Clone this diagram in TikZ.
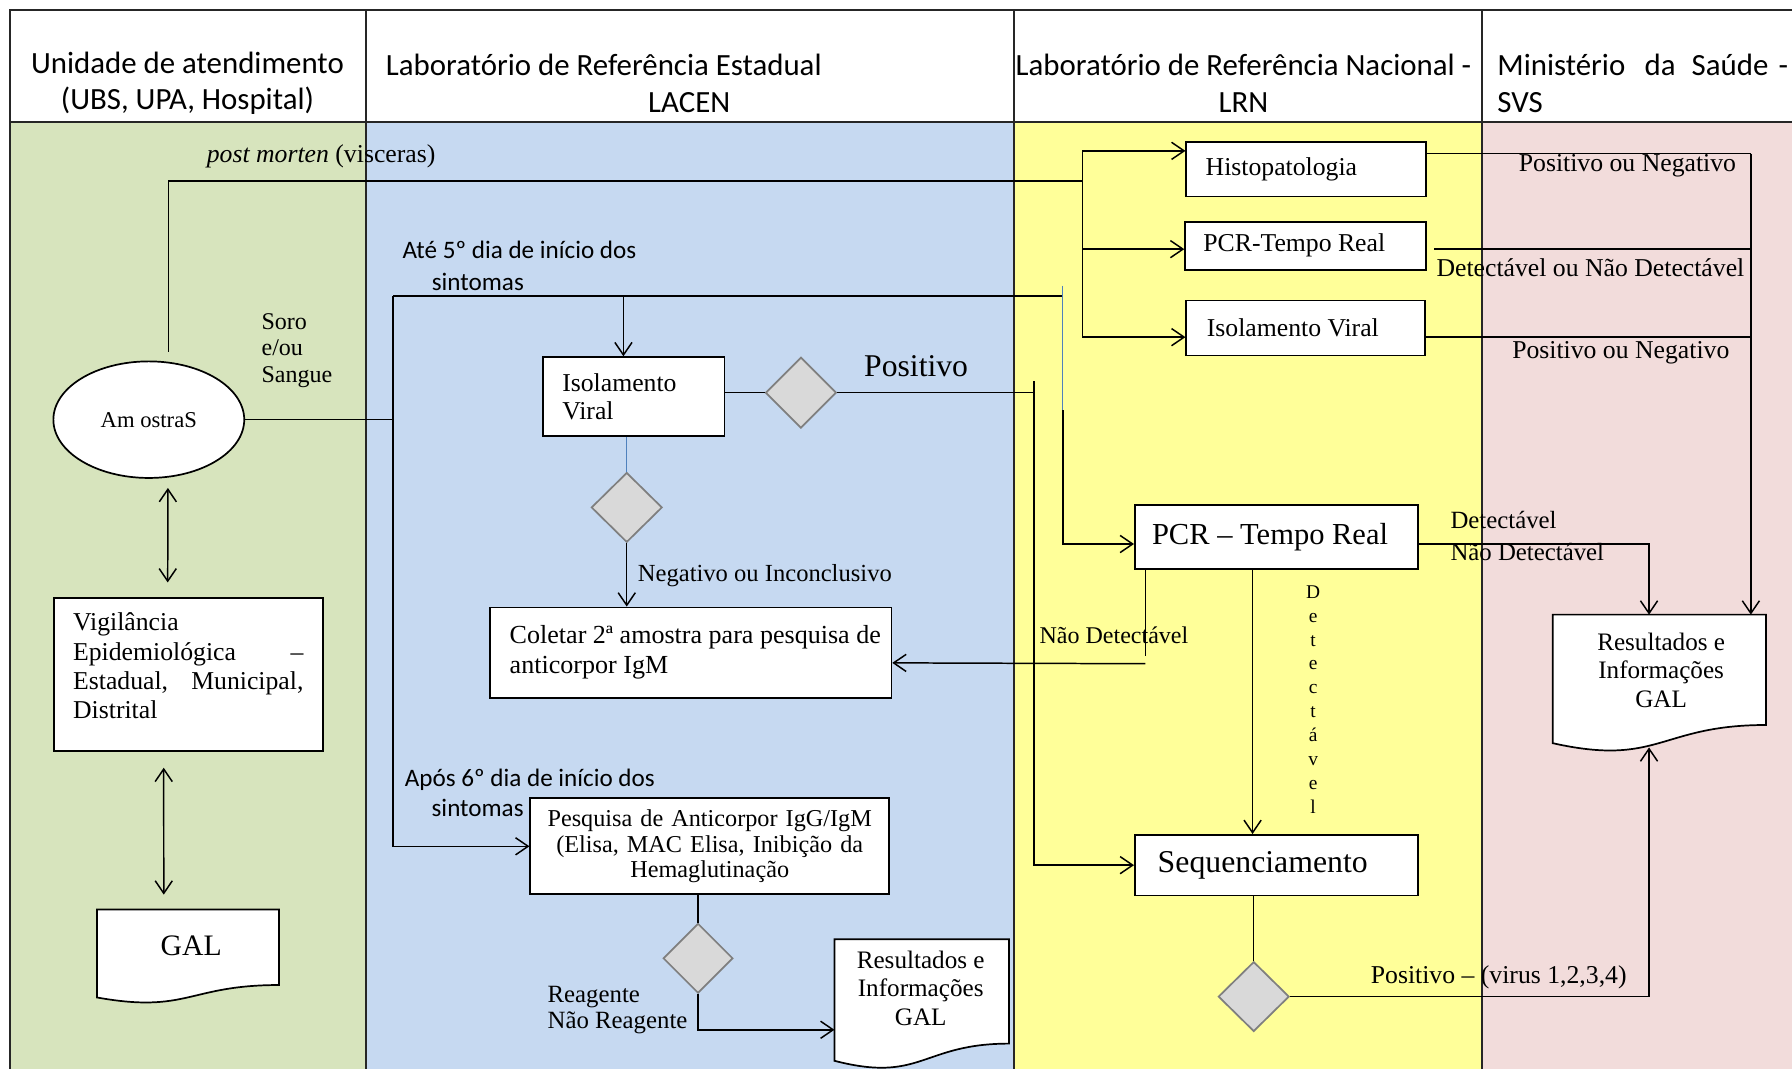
\documentclass[tikz,border=0pt]{standalone}
\usepackage{fontspec}
\setmainfont{Liberation Serif}
\newfontfamily\calfont{Carlito}
\usetikzlibrary{arrows.meta,shapes.geometric,calc}
\pgfdeclarelayer{lanes}
\pgfdeclarelayer{docs}
\pgfsetlayers{lanes,docs,main}
\definecolor{laneG}{HTML}{D7E4BD}
\definecolor{laneB}{HTML}{C6D9F1}
\definecolor{laneY}{HTML}{FFFF99}
\definecolor{laneP}{HTML}{F2DCDB}
\definecolor{decfill}{HTML}{D9D9D9}
\definecolor{decdraw}{HTML}{7F7F7F}
\definecolor{thinblue}{HTML}{4F81BD}
\tikzset{
  conn/.style={line width=1.3pt, draw=black},
  arr/.style={conn, -{Straight Barb[length=11pt,width=15pt,line width=1.3pt]}},
  arrboth/.style={conn, {Straight Barb[length=11pt,width=15pt,line width=1.3pt]}-{Straight Barb[length=11pt,width=15pt,line width=1.3pt]}},
  framel/.style={line width=1.5pt, draw=black!85},
  procbox/.style={draw, line width=1.5pt, fill=white, inner ysep=0pt, align=flush left, font=\fontsize{22.5}{25}\selectfont},
  decision/.style={diamond, draw=decdraw, line width=1.5pt, fill=decfill, inner sep=0pt},
  lbl/.style={inner sep=0pt, font=\fontsize{22.5}{25.5}\selectfont},
  hdr/.style={inner sep=0pt, font=\calfont\fontsize{27}{32}\selectfont},
  clbl/.style={inner sep=0pt, font=\calfont\fontsize{22}{27.5}\selectfont},
  docbox/.style={draw=none, inner sep=0pt},
  docline/.style={draw, line width=1.5pt, fill=white},
  thinb/.style={draw=thinblue, line width=0.9pt},
}
\newcommand{\docpath}[1]{%
  \path[docline] (#1.north west) -- (#1.north east)
   -- ($(#1.north east)!0.802!(#1.south east)$)
   .. controls ($(#1.north)!0.802!(#1.south)$) and ($(#1.north)!1.1075!(#1.south)$)
   .. ($(#1.north west)!0.934!(#1.south west)$) -- cycle;}
\begin{document}
\begin{tikzpicture}[x=1pt,y=-1pt]
\useasboundingbox (0,0) rectangle (1568,935);
\begin{pgfonlayer}{lanes}
\fill[white] (0,0) rectangle (1568,935);
\fill[laneG] (9,107) rectangle (320,935);
\fill[laneB] (320,107) rectangle (887,935);
\fill[laneY] (887,107) rectangle (1297,935);
\fill[laneP] (1297,107) rectangle (1568,935);
\draw[framel] (9,935) -- (9,9) -- (1568,9);
\draw[framel] (9,107) -- (1568,107);
\foreach \xx in {320,887,1297} \draw[framel] (\xx,9) -- (\xx,935);
\end{pgfonlayer}

% headers
\node[hdr, align=center] (h1) at (164,73) {Unidade de atendimento\\(UBS, UPA, Hospital)};
\node[hdr, align=flush left, anchor=west] (h2) at (337.5,73) {Laboratório de Referência Estadual\\\hspace*{229.5pt}LACEN};
\node[hdr, align=center] (h3) at (1088,73) {Laboratório de Referência Nacional -\\LRN};
\node[hdr, align=flush left, anchor=west] (h4) at (1310,73) {Ministério\hspace{17pt}da\hspace{14pt}Saúde\hspace{9pt}-\\SVS};

% green lane
\node[ellipse, draw, line width=1.5pt, fill=white, minimum width=167pt, minimum height=102pt, inner sep=0pt, font=\fontsize{19.8}{22}\selectfont] (am) at (130.2,367.2) {Am ostraS};
\node[procbox, minimum width=235.5pt, minimum height=134pt, text width=201.5pt, inner xsep=17pt, font=\fontsize{22.5}{25.7}\selectfont] (vig) at (164.75,590) {Vigilância\\Epidemiológica\hfill –\\Estadual,\hfill Municipal,\\Distrital\\[-11pt]\mbox{}};
\node[docbox, minimum width=159pt, minimum height=82pt] (gal1) at (164.5,837) {};

% LACEN
\node[procbox, minimum width=159pt, minimum height=69pt, text width=125pt, inner xsep=17pt] (ivL) at (554.5,347) {Isolamento\\Viral};
\node[decision, minimum width=62pt, minimum height=62pt] (d1) at (700.8,343.6) {};
\node[decision, minimum width=62pt, minimum height=61pt] (d2) at (548.4,444) {};
\node[procbox, minimum width=351pt, minimum height=79pt, text width=317pt, inner xsep=17pt, font=\fontsize{22.8}{26}\selectfont] (col) at (604.5,571) {\mbox{Coletar 2ª amostra para pesquisa de}\\anticorpor IgM};
\node[procbox, minimum width=314pt, minimum height=84pt, text width=294pt, inner xsep=10pt, align=center, font=\fontsize{21.2}{22.6}\selectfont] (pes) at (621,740.5) {Pesquisa de Anticorpor IgG/IgM\\(Elisa, MAC Elisa, Inibição da\\Hemaglutinação};
\node[decision, minimum width=61pt, minimum height=61pt] (d3) at (610.8,838.5) {};
\node[docbox, minimum width=152.3pt, minimum height=113.5pt] (resL) at (806.5,878.75) {};

% LRN
\node[procbox, minimum width=210pt, minimum height=48pt, text width=176pt, inner xsep=17pt] (histo) at (1143,148) {Histopatologia};
\node[procbox, minimum width=211pt, minimum height=42pt, text width=179pt, inner xsep=16pt] (pcr1) at (1142.5,215) {PCR-Tempo Real};
\node[procbox, minimum width=209pt, minimum height=48pt, text width=173pt, inner xsep=18pt] (ivN) at (1142.5,287) {Isolamento Viral};
\node[procbox, minimum width=248pt, minimum height=56pt, text width=218pt, inner xsep=15pt, font=\fontsize{26.7}{30}\selectfont] (pcr2) at (1117,470) {\mbox{PCR – Tempo Real}};
\node[procbox, minimum width=248pt, minimum height=53pt, text width=208pt, inner xsep=20pt, font=\fontsize{27.8}{30}\selectfont] (seq) at (1117,757) {Sequenciamento};
\node[decision, minimum width=62pt, minimum height=61pt] (d4) at (1097,872) {};

% SVS
\node[docbox, minimum width=186.3pt, minimum height=120pt] (resS) at (1451.9,598) {};

\begin{pgfonlayer}{docs}
\docpath{gal1}
\docpath{resS}
\docpath{resL}
\end{pgfonlayer}

\node[lbl, font=\fontsize{26}{28}\selectfont] (galt) at (167.3,828) {GAL};
\node[lbl, font=\fontsize{22}{25}\selectfont, align=center] (resSt) at (1453.5,586.3) {Resultados e\\Informações\\GAL};
\node[lbl, font=\fontsize{22}{24.7}\selectfont, align=center] (resLt) at (805.6,864.8) {Resultados e\\Informações\\GAL};

% labels
\node[lbl, anchor=west] (lpm) at (180.8,137) {{\itshape post morten} (visceras)};
\node[lbl, font=\fontsize{21}{23.3}\selectfont, align=flush left, anchor=west] (lsoro) at (228.7,306.5) {Soro\\e/ou\\Sangue};
\node[clbl, align=flush left, anchor=west] (lat5) at (352,232.7) {Até 5º dia de início dos\\\hspace*{25.7pt}sintomas};
\node[clbl, align=flush left, anchor=west, font=\calfont\fontsize{22}{26.3}\selectfont] (lap6) at (354,694) {Após 6º dia de início dos\\\hspace*{23.5pt}sintomas};
\node[lbl, font=\fontsize{27.7}{30}\selectfont, anchor=west] (lpos) at (756,320) {Positivo};
\node[lbl, font=\fontsize{21.5}{24}\selectfont, anchor=west] (lneg) at (558,504) {Negativo ou Inconclusivo};
\node[lbl, font=\fontsize{21}{24}\selectfont, anchor=west] (lnd) at (909.5,556) {Não Detectável};
\node[lbl, font=\fontsize{21.7}{23.4}\selectfont, align=flush left, anchor=west] (lreag) at (479,883.7) {Reagente\\Não Reagente};
\node[lbl] (lpn1) at (1424,145) {Positivo ou Negativo};
\node[lbl] (ldnd) at (1391.6,234) {Detectável ou Não Detectável};
\node[lbl] (lpn2) at (1418.2,308.3) {Positivo ou Negativo};
\node[lbl, font=\fontsize{21.7}{27.8}\selectfont, align=flush left, anchor=west] (ldet) at (1269,469) {Detectável\\Não Detectável};
\node[lbl, font=\fontsize{17}{20.9}\selectfont, align=center] (lvert) at (1149,612) {D\\e\\t\\e\\c\\t\\á\\v\\e\\l};
\node[lbl, anchor=west] (lvir) at (1199.3,855) {Positivo – (virus 1,2,3,4)};

% connectors: post morten
\coordinate (pm0) at (147.3,307.7);
\coordinate (bt) at (947,132);
\coordinate (bm) at (947,158.4);
\coordinate (bp) at (947,218);
\coordinate (bb) at (947,295);
\draw[conn] (pm0) |- (bm);
\draw[conn] (bt) -- (bb);
\draw[arr] (bt) -- (bt -| histo.west);
\draw[arr] (bp) -- (bp -| pcr1.west);
\draw[arr] (bb) -- (bb -| ivN.west);

% soro / sangue
\coordinate (s0) at (344,259);
\coordinate (s1) at (930,259);
\draw[conn] (am.east) -- (am.east -| s0);
\draw[conn] (s0) -- (s1);
\draw[arr] (s0) |- (pes.west);
\coordinate (ivLin) at ([xshift=-9pt]ivL.north);
\draw[arr] (ivLin |- s0) -- (ivLin);
\coordinate (c1) at (930,250);
\coordinate (c2) at (930,359);
\draw[thinb] (c1) -- (c2);
\coordinate (pcrin) at ([yshift=-6pt]pcr2.west);
\draw[arr] (c2) |- (pcrin);

% isolamento viral LACEN
\draw[conn] (d1.west -| ivL.east) -- (d1.west);
\coordinate (p0) at (904.6,333.4);
\draw[conn] (d1.east) -- (d1.east -| p0);
\draw[arr] (p0) |- (seq.west);
\draw[thinb] (d2.north |- ivL.south) -- (d2.north);
\draw[arr] (d2.south) -- (d2.south |- col.north);

% nao detectavel
\coordinate (nd0) at ([xshift=10pt]pcr2.south west);
\coordinate (nd1) at ($(nd0)+(0,75)$);
\draw[conn] (nd0) -- (nd1);
\coordinate (nd2) at ($(nd0)+(0,82)$);
\coordinate (colin) at ([yshift=-9pt]col.east);
\draw[arr] (nd2) -- (colin);

% pesquisa
\draw[conn] (d3.north |- pes.south) -- (d3.north);
\coordinate (rlin) at ([yshift=-22.3pt]resL.west);
\draw[arr] (d3.south) |- (rlin);

% vigilancia
\draw[arrboth] ([xshift=16.7pt,yshift=-8pt]am.south) -- ([xshift=-18pt,yshift=12.6pt]vig.north);
\draw[arrboth] ([xshift=-21.5pt,yshift=-14pt]vig.south) -- ([xshift=-21.2pt,yshift=13pt]gal1.north);

% PCR 2
\coordinate (rsin) at ([xshift=-9pt]resS.north);
\draw[arr] ([yshift=-6pt]pcr2.east) -| (rsin);
\draw[arr] ([xshift=-21pt]pcr2.south) -- ([xshift=-21pt]seq.north);
\draw[conn] (d4.north |- seq.south) -- (d4.north);
\coordinate (rsb) at ($(resS.north)!0.965!(resS.south)+(-9,0)$);
\draw[arr] (d4.east) -| (rsb);

% LRN -> SVS
\coordinate (sv) at (1532,134.5);
\draw[conn] ([yshift=13.5pt]histo.east) -- (sv);
\draw[arr] (sv) -- (sv |- resS.north);
\draw[conn] ([xshift=6pt,yshift=-3pt]pcr1.east) -- ++(278,0);
\draw[conn] ([yshift=-8pt]ivN.east) -- ++(285,0);
\end{tikzpicture}
\end{document}
